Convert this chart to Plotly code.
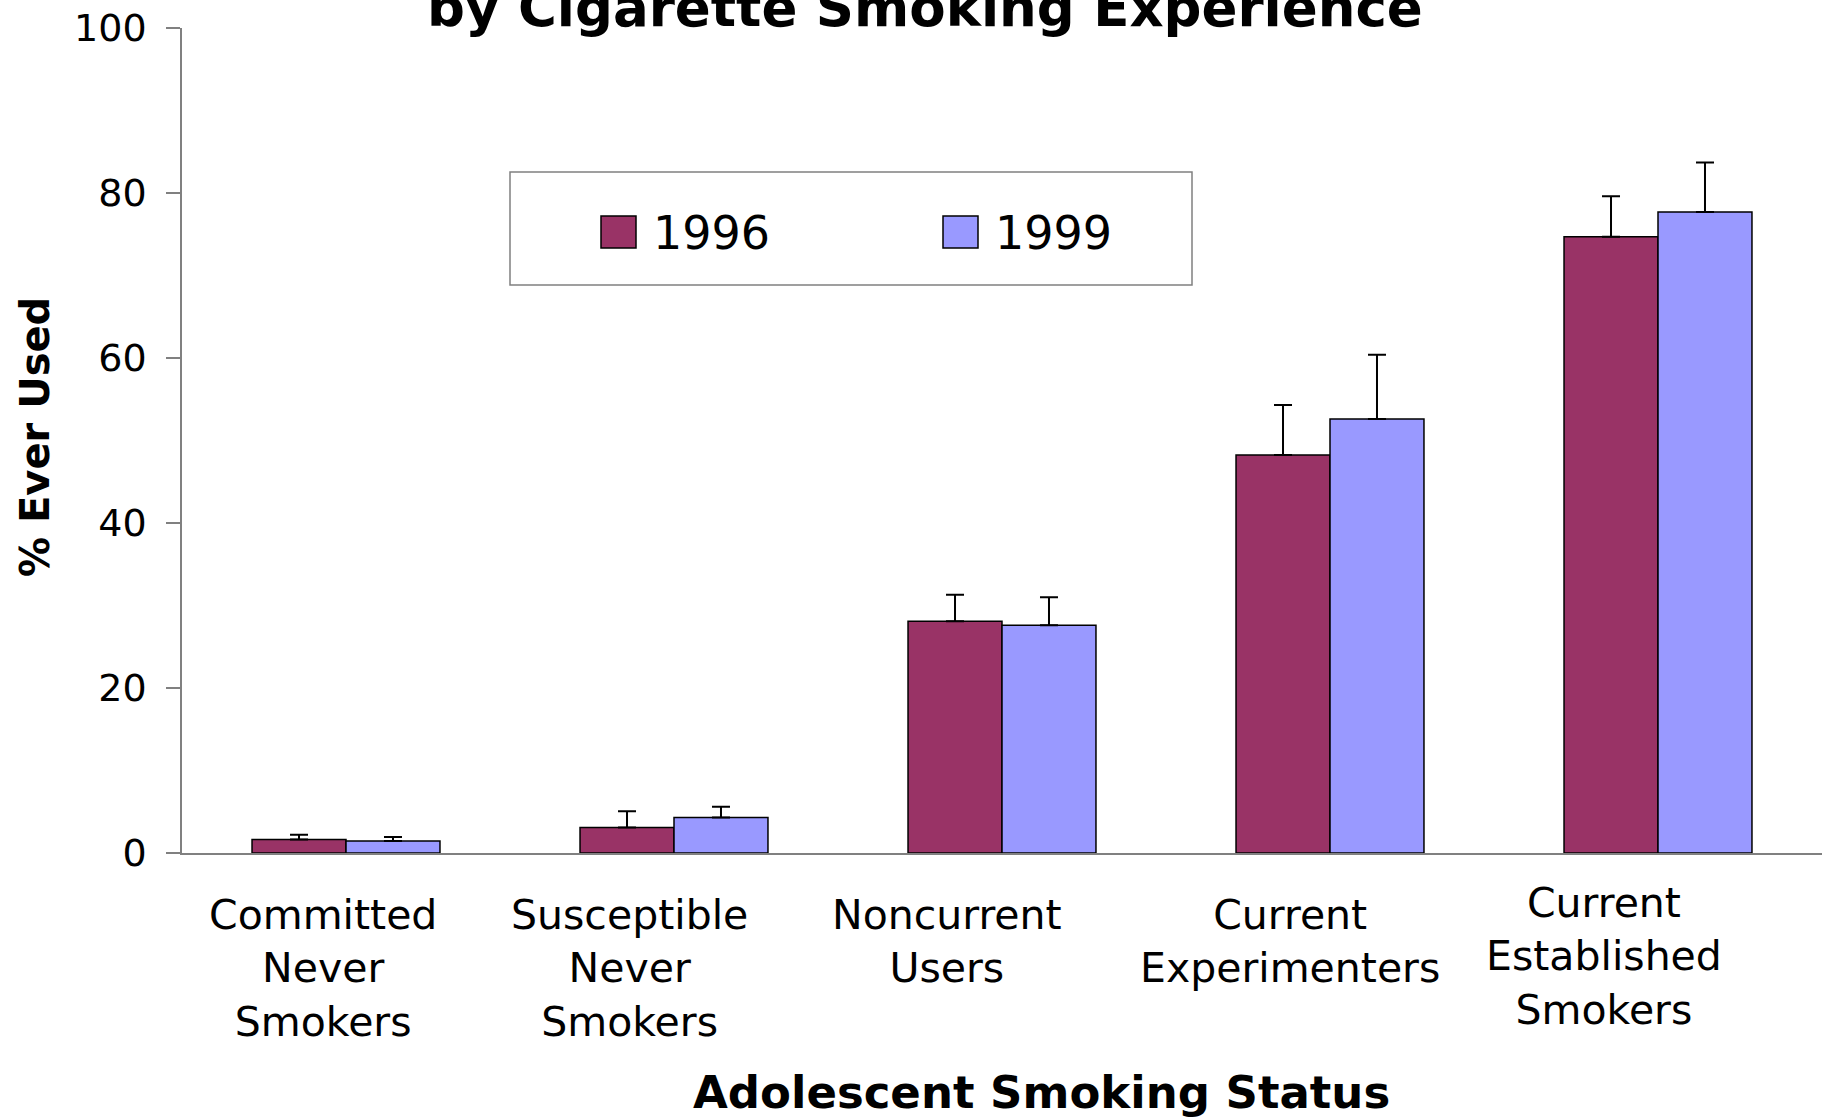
import plotly.graph_objects as go

# ---------------- data ----------------
categories = [
    "Committed<br>Never<br>Smokers",
    "Susceptible<br>Never<br>Smokers",
    "Noncurrent<br>Users",
    "Current<br>Experimenters",
    "Current<br>Established<br>Smokers",
]
series_names = ["1996", "1999"]
values_1996 = [1.65, 3.1, 28.1, 48.25, 74.7]
errplus_1996 = [0.55, 1.95, 3.2, 6.05, 4.9]
values_1999 = [1.45, 4.3, 27.6, 52.6, 77.7]
errplus_1999 = [0.5, 1.3, 3.4, 7.8, 6.0]
y_ticks = [0, 20, 40, 60, 80, 100]

colors = ["#993366", "#9999FF"]

# label placement (layout, not data): horizontal shift and top edge in px
label_xshift = [-23, -45, -55, -40, -54]
label_top = [889, 889, 889, 889, 877]

# ---------------- layout geometry ----------------
W, H = 1822, 1119
ML, MR, MT, MB = 182, 0, 28, 266
PW, PH = W - ML - MR, H - MT - MB


def px_x(px):
    return (px - ML) / PW


def px_y(py):
    return (H - MB - py) / PH


FONT = "DejaVu Sans"

fig = go.Figure()
for name, vals, errs, col in zip(series_names, [values_1996, values_1999],
                                 [errplus_1996, errplus_1999], colors):
    fig.add_trace(go.Bar(
        x=categories, y=vals, name=name,
        marker=dict(color=col, line=dict(color="black", width=1.5)),
        error_y=dict(type="data", symmetric=False, array=errs,
                     arrayminus=[0] * len(errs), color="black",
                     thickness=2, width=9),
        showlegend=False,
    ))

fig.update_layout(
    width=W, height=H,
    margin=dict(l=ML, r=MR, t=MT, b=MB, pad=0),
    paper_bgcolor="white", plot_bgcolor="white",
    barmode="group", bargap=0.427, bargroupgap=0,
    font=dict(family=FONT, color="black"),
)
fig.update_xaxes(
    showline=True, linecolor="#808080", linewidth=1.5,
    ticks="", showgrid=False, zeroline=False,
    showticklabels=False,
    range=[-0.5, 4.5],
)
fig.update_yaxes(
    range=[0, 100], tickvals=y_ticks, ticktext=[str(t) for t in y_ticks],
    showline=True, linecolor="#808080", linewidth=1.5,
    ticks="outside", ticklen=14, tickcolor="#808080", tickwidth=1.5,
    showgrid=False, zeroline=False,
    tickfont=dict(size=38, family=FONT),
    ticklabelstandoff=12,
)

# category labels (offset like the original)
for cat, dx, top in zip(categories, label_xshift, label_top):
    fig.add_annotation(
        text=cat, xref="x", yref="paper", x=cat, y=px_y(top),
        xshift=dx, xanchor="center", yanchor="top", showarrow=False,
        align="center", font=dict(size=41, family=FONT, color="black"),
    )

# title (top line cut off in the original)
fig.add_annotation(
    text="<b>by Cigarette Smoking Experience</b>",
    xref="paper", yref="paper", x=px_x(925), y=px_y(40),
    xanchor="center", yanchor="bottom", showarrow=False,
    font=dict(size=53, family=FONT, color="black"),
)
# axis titles
fig.add_annotation(
    text="<b>Adolescent Smoking Status</b>",
    xref="paper", yref="paper", x=px_x(1041), y=px_y(1092),
    xanchor="center", yanchor="middle", showarrow=False,
    font=dict(size=45, family=FONT, color="black"),
)
fig.add_annotation(
    text="<b>% Ever Used</b>",
    xref="paper", yref="paper", x=px_x(35), y=px_y(437),
    xanchor="center", yanchor="middle", showarrow=False, textangle=-90,
    font=dict(size=40, family=FONT, color="black"),
)

# legend box drawn manually (large swatches)
fig.add_shape(type="rect", xref="paper", yref="paper",
              x0=px_x(510), x1=px_x(1192), y0=px_y(172), y1=px_y(285),
              line=dict(color="#808080", width=1.5), fillcolor="white")
swatch_x = [601, 943]
for name, col, sx in zip(series_names, colors, swatch_x):
    fig.add_shape(type="rect", xref="paper", yref="paper",
                  x0=px_x(sx), x1=px_x(sx + 35), y0=px_y(216), y1=px_y(248),
                  line=dict(color="black", width=1.5), fillcolor=col)
    fig.add_annotation(text=name, xref="paper", yref="paper",
                       x=px_x(sx + 50), y=px_y(233), xanchor="left",
                       yanchor="middle", showarrow=False,
                       font=dict(size=46, family=FONT, color="black"))

fig.write_html(
    "out.html",
    config={"displayModeBar": False},
    post_script="document.body.style.margin='0';document.body.style.overflow='hidden';",
)
